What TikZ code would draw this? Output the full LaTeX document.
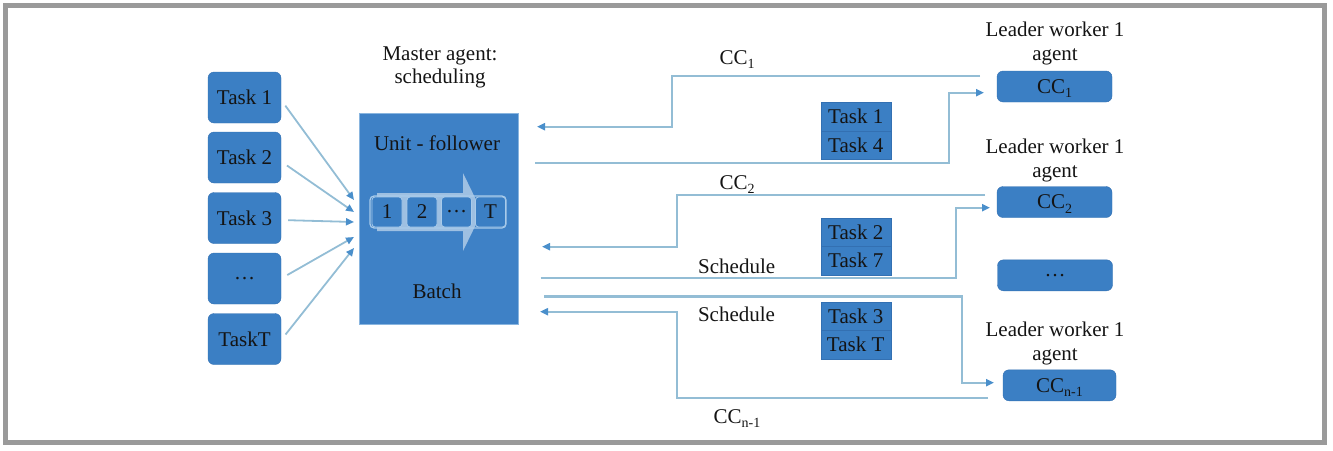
\documentclass[tikz,border=0pt]{standalone}
\usepackage{fontspec}
\setmainfont{Liberation Serif}
\usetikzlibrary{arrows.meta,calc}
\definecolor{boxblue}{HTML}{3B7FC4}
\definecolor{boxedge}{HTML}{3370B2}
\definecolor{masterblue}{HTML}{3E81C6}
\definecolor{linkblue}{HTML}{93BDD5}
\definecolor{tipblue}{HTML}{4A8FCB}
\definecolor{framegray}{HTML}{9A9A9A}
\definecolor{ink}{HTML}{141414}
\definecolor{paleblue}{HTML}{A9CBEA}
\newcommand\ccsub[1]{CC\raisebox{-0.45ex}{\fontsize{14}{14}\selectfont #1}}
\begin{document}
\begin{tikzpicture}[x=1pt,y=-1pt,
  every node/.style={font=\fontsize{21}{25}\selectfont, text=ink, inner sep=0pt},
  lbl/.style={anchor=base},
  taskbox/.style={draw=boxedge, fill=boxblue, rounded corners=6pt, minimum width=73pt, minimum height=51pt},
  workerbox/.style={draw=boxedge, fill=boxblue, rounded corners=6pt, minimum width=115pt, minimum height=31pt, text depth=0pt},
  pairbox/.style={draw=boxedge, fill=boxblue, minimum width=70pt, minimum height=28.4pt},
  cellbox/.style={draw=paleblue, fill=boxblue, rounded corners=3pt, minimum width=30pt, minimum height=30pt, line width=0.8pt},
  feed/.style={draw=linkblue, line width=1.8pt, shorten <=7pt, -{Triangle[length=8pt,width=7pt,color=tipblue]}},
  link/.style={draw=linkblue, line width=2.2pt, -{Triangle[length=8pt,width=7pt,color=tipblue]}}
]
\useasboundingbox (0,0) rectangle (1333,450);
\draw[framegray, line width=5pt] (5.5,5.5) rectangle (1324.5,442);

% task boxes
\node[taskbox] (t1) at (244.5,97.5) {Task 1};
\node[taskbox] (t2) at (244.5,157.5) {Task 2};
\node[taskbox] (t3) at (244.5,218) {Task 3};
\node[taskbox] (t4) at (244.5,278.5) {\ldots};
\node[taskbox] (t5) at (244.5,339) {TaskT};

% master
\node[lbl] (ma1) at (440,60.7) {Master agent:};
\node[lbl] (ma2) at (440,83.3) {scheduling};
\node[draw=paleblue!70!masterblue, fill=masterblue, line width=1pt, minimum width=159pt, minimum height=211pt] (master) at (438.5,218.5) {};
\node[lbl] (unit) at (437,150.7) {Unit - follower};
\node[lbl] (batch) at (437,298.3) {Batch};
\fill[white, fill opacity=0.5] (377,193) -- (463,193) -- (463,173) -- (482,212) -- (463,251) -- (463,231) -- (377,231) -- cycle;
\draw[paleblue, line width=1.2pt, rounded corners=4pt] (370,196) rectangle (506,228);
\node[cellbox] (c1) at (387,212) {1};
\node[cellbox] (c2) at (422,212) {2};
\node[cellbox] (c3) at (456.5,212) {\ldots};
\node[cellbox] (c4) at (490.5,212) {T};

% feed arrows
\coordinate (i1) at (354,200);
\coordinate (i2) at (354,212);
\coordinate (i3) at (354,222);
\coordinate (i4) at (354,237);
\coordinate (i5) at (354,248);
\draw[feed] ($(t1.east)+(0,2.5)$) -- (i1);
\draw[feed] ($(t2.east)+(0,4)$) -- (i2);
\draw[feed] ($(t3.east)+(0,2)$) -- (i3);
\draw[feed] (t4.east) -- (i4);
\draw[feed] ($(t5.east)+(0,1)$) -- (i5);

% worker labels and boxes
\node[lbl] (lw1a) at (1055,36.7) {Leader worker 1};
\node[lbl] (lw1b) at (1055,60.7) {agent};
\node[workerbox] (cc1) at (1054.5,86.5) {\ccsub{1}};
\node[lbl] (lw2a) at (1055,153.5) {Leader worker 1};
\node[lbl] (lw2b) at (1055,177.5) {agent};
\node[workerbox] (cc2) at (1054.5,202) {\ccsub{2}};
\node[workerbox] (ccd) at (1055,275.3) {\ldots};
\node[lbl] (lw3a) at (1055,336.7) {Leader worker 1};
\node[lbl] (lw3b) at (1055,360) {agent};
\node[workerbox, minimum width=113pt] (ccn) at (1059.5,385.3) {\ccsub{n-1}};

% task pairs
\node[pairbox] (p1a) at (855.7,116.5) {Task 1};
\node[pairbox] (p1b) at (855.7,145) {Task 4};
\node[pairbox] (p2a) at (855.7,232.5) {Task 2};
\node[pairbox] (p2b) at (855.7,260.8) {Task 7};
\node[pairbox] (p3a) at (855.7,316.7) {Task 3};
\node[pairbox] (p3b) at (855.7,344.5) {Task T};

% connector labels
\node[lbl] (l1) at (737,64) {\ccsub{1}};
\node[lbl] (l2) at (737,189) {\ccsub{2}};
\node[lbl] (l3) at (736.7,273) {Schedule};
\node[lbl] (l4) at (736.5,321.7) {Schedule};
\node[lbl] (l5) at (737,423.3) {\ccsub{n-1}};

% right connectors
\coordinate (s1) at (980,75.7);  \coordinate (k1) at (672,126.7); \coordinate (e1) at (537,126.7);
\coordinate (f2) at (535,163.3); \coordinate (k2) at (949,92.7);  \coordinate (e2) at (984,92.7);
\coordinate (s3) at (985,195);   \coordinate (k3) at (677,246.7); \coordinate (e3) at (542,246.7);
\coordinate (f4) at (540.7,278.3); \coordinate (k4) at (956,207.7); \coordinate (e4) at (990,207.7);
\coordinate (f5) at (544,296.5); \coordinate (k5) at (962,382.7); \coordinate (e5) at (994,382.7);
\coordinate (s6) at (988,398.3); \coordinate (k6) at (677,311.7); \coordinate (e6) at (540,311.7);
\draw[link] (s1) -| (k1) -- (e1);
\draw[link] (f2) -| (k2) -- (e2);
\draw[link] (s3) -| (k3) -- (e3);
\draw[link] (f4) -| (k4) -- (e4);
\draw[link] (f5) -| (k5) -- (e5);
\draw[link] (s6) -| (k6) -- (e6);
\end{tikzpicture}
\end{document}
